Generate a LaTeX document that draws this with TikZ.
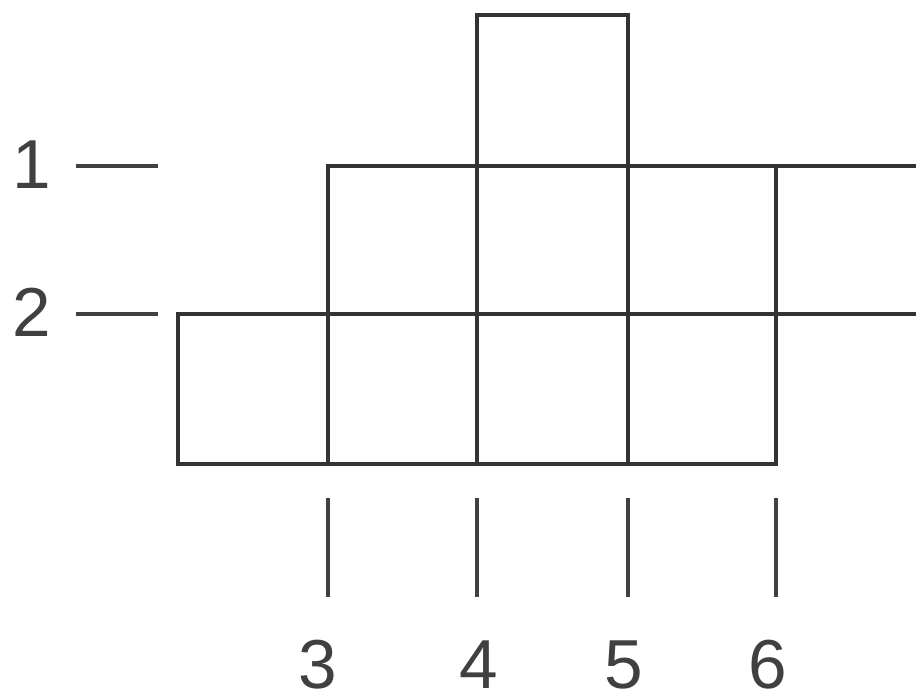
\documentclass[tikz,border=0pt]{standalone}
\usepackage{fontspec}
\setmainfont{Liberation Sans}
\begin{document}
\begin{tikzpicture}[x=0.75pt,y=-0.75pt,
  gridline/.style={draw=black!80,line width=3.6pt,line cap=rect},
  tickline/.style={draw=black!75,line width=3.4pt},
  digit/.style={text=black!75,font=\fontsize{52}{52}\selectfont,inner sep=0pt}]
\useasboundingbox (0,0) rectangle (916,692);
% top box
\draw[gridline] (477,166) -- (477,15) -- (628,15) -- (628,166);
% row 1
\draw[gridline] (328,314) -- (328,166) -- (916,166);
\draw[gridline] (477,166) -- (477,464);
\draw[gridline] (628,166) -- (628,464);
\draw[gridline] (776,166) -- (776,464);
% row 2
\draw[gridline] (178,314) -- (916,314);
\draw[gridline] (178,314) -- (178,464) -- (776,464);
\draw[gridline] (328,314) -- (328,464);
% left ticks and labels
\node[digit,anchor=base] (l1) at (32,188) {1};
\node[digit,anchor=base] (l2) at (32,336) {2};
\draw[tickline] (76,166) -- (158,166);
\draw[tickline] (76,314) -- (158,314);
% bottom ticks and labels
\foreach \x in {328,477,628,776} \draw[tickline] (\x,498) -- (\x,597);
\node[digit,anchor=base] (b3) at (318,688) {3};
\node[digit,anchor=base] (b4) at (479,688) {4};
\node[digit,anchor=base] (b5) at (624,688) {5};
\node[digit,anchor=base] (b6) at (768,688) {6};
\end{tikzpicture}
\end{document}
